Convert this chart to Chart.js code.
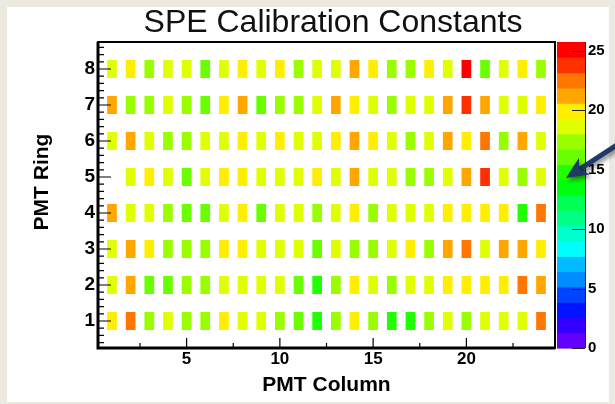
<!DOCTYPE html>
<html>
<head>
<meta charset="utf-8">
<title>SPE Calibration Constants</title>
<script src="https://cdn.jsdelivr.net/npm/chart.js@4.4.1/dist/chart.umd.min.js"></script>
<style>
  html, body { margin: 0; padding: 0; background: #ECE9E1; }
  canvas { display: block; }
</style>
</head>
<body>
<canvas id="speMap" width="615" height="404"></canvas>
<script>
// PMT grid: 24 columns x 8 rings
const pmtColumns = [1, 2, 3, 4, 5, 6, 7, 8, 9, 10, 11, 12, 13, 14, 15, 16, 17, 18, 19, 20, 21, 22, 23, 24];
const pmtRings = [1, 2, 3, 4, 5, 6, 7, 8];

// SPE calibration constant per PMT, one array per ring (null = no entry)
const ring1 = [19.8, 22.6, 17.4, 18.7, 17.2, 17.5, 19.9, 18.5, 18.8, 17.3, 16.1, 14.8, 17.6, 20.1, 17.3, 14.9, 14.6, 17.4, 18.6, 17.2, 18.8, 18.5, 18.9, 22.7];
const ring2 = [18.6, 21.3, 16.0, 16.2, 17.4, 17.2, 18.8, 18.5, 18.7, 18.4, 16.1, 14.7, 17.5, 19.9, 18.6, 17.3, 18.8, 18.5, 19.7, 20.0, 19.8, 20.2, 22.4, 21.2];
const ring3 = [18.7, 21.4, 19.8, 17.3, 17.5, 17.2, 20.0, 19.9, 18.6, 18.8, 18.5, 16.0, 18.7, 17.4, 17.3, 18.9, 19.8, 17.5, 21.1, 22.6, 18.6, 21.3, 21.0, 19.9];
const ring4 = [21.3, 18.6, 18.8, 17.4, 16.1, 15.9, 18.7, 19.9, 16.0, 18.5, 18.8, 17.3, 18.6, 20.1, 17.4, 18.7, 18.6, 18.9, 19.8, 20.0, 19.9, 20.2, 14.8, 22.5];
const ring5 = [null, 18.7, 19.9, 18.6, 16.1, 18.8, 20.0, 19.8, 18.6, 18.7, 18.5, 19.9, 18.8, 21.3, 18.6, 18.9, 17.4, 17.2, 18.7, 21.2, 23.8, 18.6, 17.5, 18.8];
const ring6 = [18.6, 21.2, 18.8, 17.3, 17.5, 18.7, 18.5, 19.9, 18.7, 20.0, 18.6, 18.9, 19.8, 21.4, 19.9, 18.7, 17.4, 18.6, 21.2, 20.1, 22.6, 17.3, 21.1, 18.8];
const ring7 = [21.2, 17.4, 17.3, 18.7, 17.5, 16.0, 19.9, 21.3, 16.2, 17.4, 17.2, 18.6, 21.4, 20.0, 18.8, 17.3, 18.7, 18.5, 21.2, 23.9, 21.1, 18.6, 18.9, 19.8];
const ring8 = [18.7, 19.9, 17.4, 18.6, 18.8, 16.1, 18.7, 20.0, 18.6, 19.8, 17.3, 18.7, 18.9, 21.3, 19.9, 17.4, 17.5, 20.1, 18.6, 25.1, 16.0, 18.8, 19.9, 17.3];

// Axis tick labels
const xTickValues = [5, 10, 15, 20];
const yTickValues = [1, 2, 3, 4, 5, 6, 7, 8];
const zTickValues = [0, 5, 10, 15, 20, 25];

// Colour scale range and number of contour levels
const Z_MIN = 0;
const Z_MAX = 25.75;
const N_CONTOURS = 20;

const ringValues = [ring1, ring2, ring3, ring4, ring5, ring6, ring7, ring8];
const FONT = '"Liberation Sans", Arial, Helvetica, sans-serif';

// Rainbow "pretty" palette: 50 hues from violet (280) down to red (0)
function contourColor(k) {
  const idx = Math.floor((k + 0.99) * 50 / N_CONTOURS);
  const hue = 280 - (idx + 1) * 5.6;
  return 'hsl(' + hue.toFixed(1) + ', 100%, 50%)';
}
function valueColor(v) {
  const step = (Z_MAX - Z_MIN) / N_CONTOURS;
  const k = Math.max(0, Math.min(N_CONTOURS - 1, Math.floor((v - Z_MIN) / step)));
  return contourColor(k);
}

// One floating-bar dataset per ring; each cell spans +/-0.25 around its bin centre
const datasets = pmtRings.map((ring, i) => ({
  label: 'Ring ' + ring,
  data: pmtColumns
    .map((col, j) => ({ x: col, y: [ring - 0.25, ring + 0.25], v: ringValues[i][j] }))
    .filter(d => d.v !== null),
  backgroundColor: ctx => (ctx.raw ? valueColor(ctx.raw.v) : '#000'),
  borderWidth: 0,
  grouped: false,
  barPercentage: 0.52,
  categoryPercentage: 1.0
}));

// Frame, inward ticks, palette bar, titles and the pointer arrow
const rootFrame = {
  id: 'rootFrame',
  beforeDraw(chart) {
    const { ctx, width, height } = chart;
    ctx.save();
    ctx.fillStyle = '#ECE9E1';
    ctx.fillRect(0, 0, width, height);
    ctx.fillStyle = '#FFFFFF';
    ctx.fillRect(7, 7, 602, 395);
    ctx.restore();
  },
  afterDatasetsDraw(chart) {
    const { ctx, chartArea: a, scales } = chart;
    const xs = scales.x, ys = scales.y, zs = scales.zScale;
    ctx.save();

    // palette bar
    const barL = a.right + 2, barR = a.right + 30;
    for (let k = 0; k < N_CONTOURS; k++) {
      const lo = Z_MIN + k * (Z_MAX - Z_MIN) / N_CONTOURS;
      const hi = Z_MIN + (k + 1) * (Z_MAX - Z_MIN) / N_CONTOURS;
      const yTop = zs.getPixelForValue(hi), yBot = zs.getPixelForValue(lo);
      ctx.fillStyle = contourColor(k);
      ctx.fillRect(barL, yTop, barR - barL, yBot - yTop + 0.6);
    }
    ctx.strokeStyle = '#222';
    ctx.lineWidth = 1;
    ctx.beginPath();
    ctx.moveTo(barR + 0.5, zs.top);
    ctx.lineTo(barR + 0.5, zs.bottom);
    zTickValues.forEach(v => {
      const y = Math.round(zs.getPixelForValue(v)) + 0.5;
      ctx.moveTo(barR, y);
      ctx.lineTo(barR - 13, y);
    });
    ctx.stroke();

    // y-axis ticks (inside the frame)
    ctx.strokeStyle = '#000';
    ctx.lineWidth = 1.2;
    ctx.beginPath();
    for (let i = 2; i <= 43; i++) {
      const v = i * 0.2;
      const y = ys.getPixelForValue(v);
      const major = i % 5 === 0;
      ctx.moveTo(a.left, y);
      ctx.lineTo(a.left + (major ? 13 : 6), y);
    }
    // x-axis ticks
    for (let v = 2.5; v < 24.6; v += 2.5) {
      const x = xs.getPixelForValue(v);
      const major = Math.abs(v % 5) < 1e-6;
      ctx.moveTo(x, a.bottom);
      ctx.lineTo(x, a.bottom - (major ? 10 : 5));
    }
    ctx.stroke();

    // frame
    ctx.lineWidth = 2;
    ctx.strokeRect(a.left, a.top, a.right - a.left, a.bottom - a.top);
    ctx.lineWidth = 3;
    ctx.beginPath();
    ctx.moveTo(a.left, a.top);
    ctx.lineTo(a.left, a.bottom);
    ctx.lineTo(a.right, a.bottom);
    ctx.stroke();

    // titles
    ctx.fillStyle = '#111';
    ctx.font = '32px ' + FONT;
    ctx.textAlign = 'center';
    ctx.textBaseline = 'alphabetic';
    ctx.fillText('SPE Calibration Constants', 333, 32);

    ctx.fillStyle = '#000';
    ctx.font = 'bold 21px ' + FONT;
    ctx.fillText('PMT Column', (a.left + a.right) / 2, 391);
    ctx.translate(48, 182);
    ctx.rotate(-Math.PI / 2);
    ctx.fillText('PMT Ring', 0, 0);
    ctx.restore();
  },
  afterDraw(chart) {
    const { ctx } = chart;
    ctx.save();
    const tail = { x: 620, y: 143 }, tip = { x: 566, y: 178 };
    const dx = tip.x - tail.x, dy = tip.y - tail.y;
    const len = Math.hypot(dx, dy), ux = dx / len, uy = dy / len;
    const headLen = 22, headHalf = 10;
    const bx = tip.x - ux * headLen, by = tip.y - uy * headLen;
    ctx.shadowColor = 'rgba(0,0,0,0.45)';
    ctx.shadowBlur = 4;
    ctx.shadowOffsetX = 2;
    ctx.shadowOffsetY = 3;
    ctx.fillStyle = '#1F3A68';
    ctx.strokeStyle = '#1F3A68';
    ctx.lineWidth = 5;
    ctx.lineCap = 'butt';
    ctx.beginPath();
    ctx.moveTo(tail.x, tail.y);
    ctx.lineTo(bx + ux * 6, by + uy * 6);
    ctx.stroke();
    ctx.beginPath();
    ctx.moveTo(tip.x, tip.y);
    ctx.lineTo(bx - uy * headHalf, by + ux * headHalf);
    ctx.lineTo(bx + ux * 6, by + uy * 6);
    ctx.lineTo(bx + uy * headHalf, by - ux * headHalf);
    ctx.closePath();
    ctx.fill();
    ctx.restore();
  }
};

new Chart(document.getElementById('speMap'), {
  type: 'bar',
  data: { datasets },
  plugins: [rootFrame],
  options: {
    responsive: false,
    devicePixelRatio: 1,
    animation: false,
    events: [],
    layout: { padding: { left: 0, right: 0, top: 38, bottom: 0 } },
    plugins: { legend: { display: false }, title: { display: false }, tooltip: { enabled: false } },
    scales: {
      x: {
        type: 'linear',
        min: 0.25,
        max: 24.75,
        offset: false,
        grid: { display: false, drawTicks: false, offset: false },
        border: { display: false },
        afterBuildTicks: s => { s.ticks = xTickValues.map(v => ({ value: v })); },
        afterFit: s => { s.height = 56; },
        ticks: { color: '#000', font: { family: FONT, size: 17, weight: 'bold' }, padding: 1, maxRotation: 0, autoSkip: false }
      },
      y: {
        type: 'linear',
        min: 0.25,
        max: 8.75,
        grid: { display: false, drawTicks: false },
        border: { display: false },
        afterBuildTicks: s => { s.ticks = yTickValues.map(v => ({ value: v })); },
        afterFit: s => { s.width = 98; },
        ticks: { color: '#000', font: { family: FONT, size: 19, weight: 'bold' }, padding: 3, autoSkip: false }
      },
      zScale: {
        axis: 'y',
        type: 'linear',
        position: 'right',
        min: Z_MIN,
        max: Z_MAX,
        grid: { display: false, drawTicks: false },
        border: { display: false },
        afterBuildTicks: s => { s.ticks = zTickValues.map(v => ({ value: v })); },
        afterFit: s => { s.width = 60; },
        ticks: { color: '#000', font: { family: FONT, size: 15, weight: 'bold' }, padding: 33, autoSkip: false }
      }
    }
  }
});
</script>
</body>
</html>
